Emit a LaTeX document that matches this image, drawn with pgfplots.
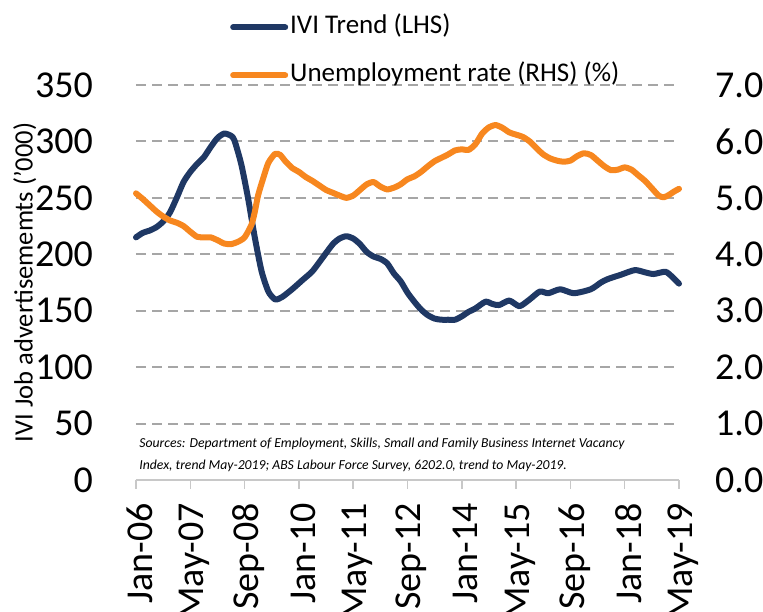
\documentclass[border=0pt]{standalone}
\usepackage{fontspec}
\setmainfont{Carlito}
\usepackage{pgfplots}
\pgfplotsset{compat=1.18}
\definecolor{ivi}{HTML}{1F3864}
\definecolor{unemp}{HTML}{F7871F}
\definecolor{gridc}{HTML}{A6A6A6}
\definecolor{axisc}{HTML}{C8C8C8}

\pgfplotstableread{
m v
0 215
2 219
4 221
6 224
8 229
10 237
12 250
14 264
16 273
18 280
20 286
22 295
24 303
26 307
28 305
29 301
31 280
33 250
35 215
37 185
39 167
41 160
43 162
46 169
49 177
52 185
55 197
58 209
60 214
62 216
64 214
66 209
68 202
70 198
72 196
74 192
76 183
78 176
80 166
82 158
84 151
86 146
88 143
90 142
92 142
94 142
96 145
98 149
100 152
103 158
105 156
107 155
110 159
113 154
116 160
119 167
121.5 165.5
125 169
129 165.5
134 169
137 175
139 178
143 182
147 186
150 184
152.5 182.5
156 184.5
158 180
160 174
}\ivitable

\pgfplotstableread{
m v
0 5.08
2 4.98
4 4.87
6 4.76
8 4.67
10 4.60
12 4.56
14 4.50
16 4.40
18 4.31
20 4.30
22 4.30
24 4.25
26 4.19
28 4.18
30 4.22
32 4.30
34 4.52
35 4.75
36 5.05
37.5 5.35
39 5.62
41 5.78
42.5 5.76
44 5.65
46 5.53
48 5.46
50 5.37
52 5.30
54 5.22
56 5.14
58 5.09
60 5.04
62 5.00
64 5.04
66 5.14
68 5.24
70 5.28
72 5.20
74 5.15
76 5.18
78 5.24
80 5.33
82 5.38
84 5.46
86 5.56
88 5.65
90 5.71
92 5.77
94 5.84
96 5.86
98 5.85
100 5.95
102 6.14
104 6.25
106 6.29
108 6.24
110 6.16
112 6.12
114 6.08
116 6.00
118 5.88
120 5.77
122 5.70
124 5.66
126 5.64
128 5.66
130 5.74
132 5.79
134 5.76
136 5.66
138 5.56
140 5.49
142 5.50
144 5.54
146 5.50
148 5.40
150 5.30
152 5.17
154 5.04
155.5 5.01
157 5.05
158.5 5.11
160 5.16
}\unemptable

\begin{document}
\begin{tikzpicture}
\useasboundingbox (0,0) rectangle (763pt,612pt);
\begin{axis}[
  at={(136pt,132pt)}, anchor=south west,
  scale only axis, width=543pt, height=395pt,
  xmin=0, xmax=160, ymin=0, ymax=350,
  axis x line*=bottom, axis y line*=left,
  y axis line style={draw=none},
  x axis line style={draw=axisc, line width=1.5pt},
  xtick={0,16,...,160},
  xticklabels={Jan-06,May-07,Sep-08,Jan-10,May-11,Sep-12,Jan-14,May-15,Sep-16,Jan-18,May-19},
  ytick={0,50,...,350},
  tick align=outside,
  x tick style={draw=axisc, line width=1.5pt},
  major tick length=9pt,
  y tick style={draw=none},
  ymajorgrids,
  major grid style={draw=gridc, line width=2pt, dash pattern=on 10pt off 6pt},
  tick label style={font=\fontsize{38}{40}\selectfont, inner sep=0pt},
  /pgf/number format/assume math mode=true,
  xticklabel style={xshift=4pt, rotate=90, anchor=east},
  xticklabel shift=14pt,
  yticklabel shift=34pt,
  ylabel={IVI Job advertisememts ('000)},
  ylabel style={at={(axis description cs:-0.205,0.5)}, anchor=center, font=\fontsize{26.5}{30}\selectfont},
  clip=false,
]
\addplot[ivi, line width=6pt, line join=round, line cap=round, smooth, tension=0.4] table[x=m, y=v] {\ivitable};
\node[anchor=north west, inner sep=0pt, align=left, font=\fontsize{13.7}{21.5}\selectfont\itshape] at (rel axis cs:0.006,0.106)
  {Sources: Department of Employment, Skills, Small and Family Business Internet Vacancy\\Index, trend May-2019; ABS Labour Force Survey, 6202.0, trend to May-2019.};
\end{axis}
\begin{axis}[
  at={(136pt,132pt)}, anchor=south west,
  scale only axis, width=543pt, height=395pt,
  xmin=0, xmax=160, ymin=0, ymax=7,
  axis x line=none, axis y line*=right,
  y axis line style={draw=none},
  ytick={0,1,...,7},
  y tick style={draw=none},
  tick label style={font=\fontsize{38}{40}\selectfont, inner sep=0pt},
  /pgf/number format/assume math mode=true,
  yticklabel style={/pgf/number format/.cd, fixed, fixed zerofill, precision=1},
  yticklabel shift=36pt,
  clip=false,
  legend cell align=left,
  legend style={at={(0.1731,1.1805)}, anchor=north west, draw=none, fill=none,
    inner sep=0pt, row sep=21pt, column sep=2pt,
    font=\fontsize{27}{30}\selectfont,
    nodes={inner sep=0pt, text height=20pt, text depth=7pt}},
  legend image code/.code={\draw[#1, line cap=round] (3pt,0pt) -- (55pt,0pt);},
]
\addlegendimage{ivi, line width=6pt}
\addlegendentry{IVI Trend (LHS)}
\addplot[unemp, line width=6pt, line join=round, line cap=round, smooth, tension=0.4] table[x=m, y=v] {\unemptable};
\addlegendentry{Unemployment rate (RHS) (\%)}
\end{axis}
\end{tikzpicture}
\end{document}
